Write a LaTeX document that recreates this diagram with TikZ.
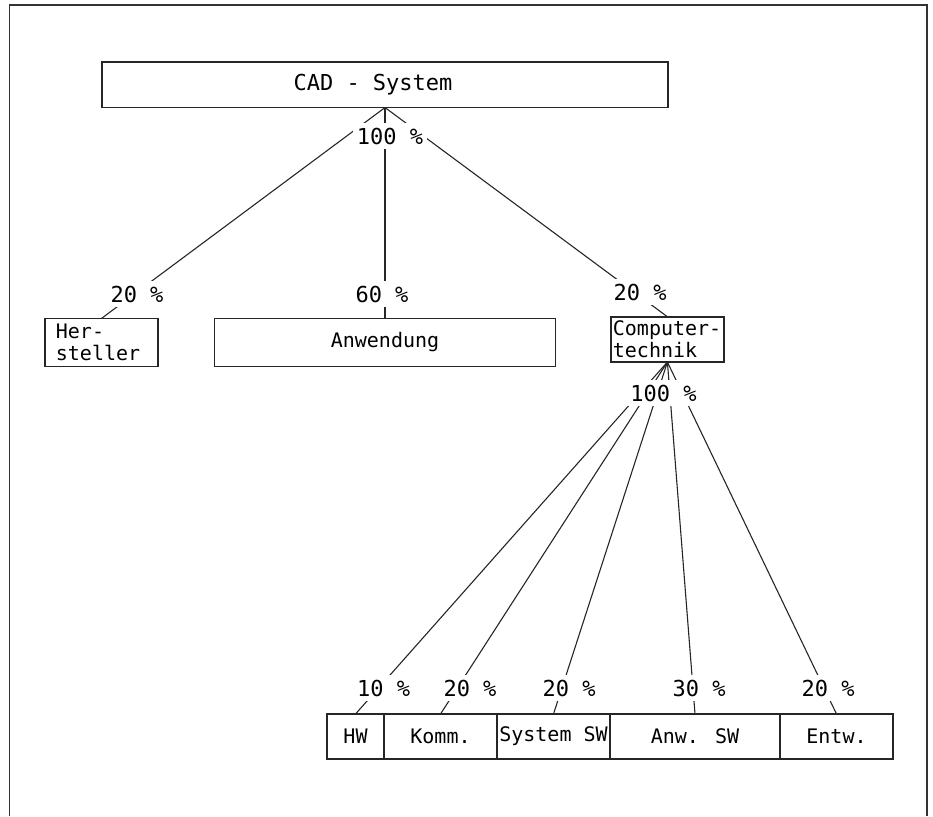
\documentclass[tikz,border=0pt]{standalone}
\usepackage{fontspec}
\newfontfamily\dm{DejaVu Sans Mono}
\begin{document}
\begin{tikzpicture}[x=1pt,y=-1pt,
  box/.style={draw=black!85, line width=1.6pt, inner sep=0pt, outer sep=0pt,
              font=\dm\fontsize{20}{22}\selectfont},
  pct/.style={fill=white, inner xsep=4pt, inner ysep=5pt,
              font=\dm\fontsize{22}{24}\selectfont},
  conn/.style={draw=black!85, line width=1.1pt}]
\useasboundingbox (0,0) rectangle (933,816);
% frame (open at the bottom)
\draw[black!80, line width=1.8pt] (9.5,816) -- (9.5,5) -- (927,5) -- (927,816);

% boxes
\node[box, minimum width=566pt, minimum height=45.5pt,
      font=\dm\fontsize{22}{24}\selectfont] (cad) at (385,84.8) {CAD - System\hspace*{24pt}};
\node[box, minimum width=113pt, minimum height=48pt, text width=91pt,
      inner xsep=11pt, align=left] (her) at (101.4,342.5) {Her-\\steller};
\node[box, minimum width=341pt, minimum height=48pt] (anw) at (385,342.5) {Anwendung};
\node[box, minimum width=113pt, minimum height=45.3pt, text width=109pt,
      inner xsep=2pt, align=left] (ct) at (667.4,339.4) {Computer-\\technik};

\node[box, minimum width=57pt,  minimum height=45pt] (hw)   at (355.5,736.5) {HW};
\node[box, minimum width=113pt, minimum height=45pt] (komm) at (440.5,736.5) {Komm.};
\node[box, minimum width=113pt, minimum height=45pt] (sys)  at (553.5,736.5) {System SW};
\node[box, minimum width=170pt, minimum height=45pt] (asw)  at (695,736.5)   {Anw. SW};
\node[box, minimum width=113pt, minimum height=45pt] (entw) at (836.5,736.5) {Entw.};

% connectors
\draw[conn] (cad.south) -- (her.north);
\draw[conn] (cad.south) -- (anw.north);
\draw[conn] (cad.south) -- (ct.north);
\draw[conn] (ct.south) -- (hw.north);
\draw[conn] (ct.south) -- (komm.north);
\draw[conn] (ct.south) -- (sys.north);
\draw[conn] (ct.south) -- (asw.north);
\draw[conn] (ct.south) -- (entw.north);

% percentage labels
\node[pct] (p1) at (390,136) {100 \%};
\node[pct] (p2) at (137,294) {20 \%};
\node[pct] (p3) at (382,294) {60 \%};
\node[pct] (p4) at (640,292) {20 \%};
\node[pct] (p5) at (663.5,393) {100 \%};
\node[pct] (p6) at (383.6,688) {10 \%};
\node[pct] (p7) at (470,688) {20 \%};
\node[pct] (p8) at (569,688) {20 \%};
\node[pct] (p9) at (699,688) {30 \%};
\node[pct] (p10) at (828,688) {20 \%};
\end{tikzpicture}
\end{document}
